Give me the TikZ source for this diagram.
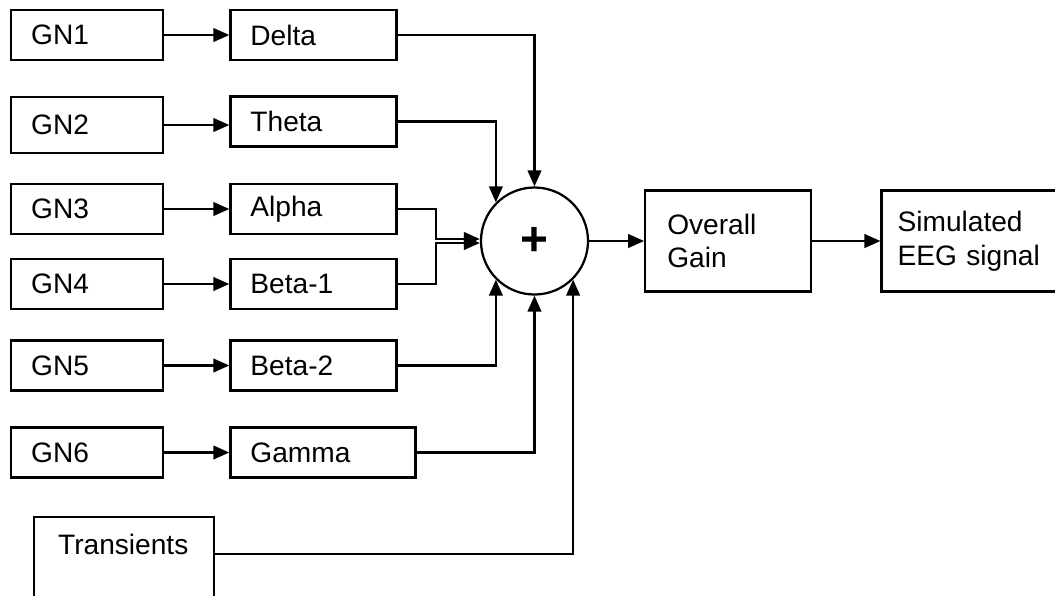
\documentclass[tikz,border=0pt]{standalone}
\usepackage{fontspec}
\setmainfont{Liberation Sans}
\usetikzlibrary{positioning, arrows.meta}
\tikzset{
  >={Triangle[length=0.4cm, width=0.34cm]},
  every node/.style={font=\fontsize{20}{24}\selectfont},
  block/.style={draw, rectangle, inner xsep=0.5cm, inner ysep=0pt, align=left, minimum height=1.25cm},
  gnbox/.style={block, text width=2.8cm},
  bandbox/.style={block, text width=3.15cm},
}

\begin{document}
\begin{tikzpicture}[x=0.025cm, y=-0.025cm, line width=1.6pt]
      \useasboundingbox (0,0) rectangle (1055,595);

      \node[gnbox, anchor=west]  (gn1) at (10,35) {GN1};
      \node[gnbox, anchor=west, minimum height=1.4cm]  (gn2) at (10,125) {GN2};
      \node[gnbox, anchor=west]  (gn3) at (10,209) {GN3};
      \node[gnbox, anchor=west]  (gn4) at (10,284) {GN4};
      \node[gnbox, anchor=west]  (gn5) at (10,365.5) {GN5};
      \node[gnbox, anchor=west]  (gn6) at (10,452.5) {GN6};

      \node[bandbox, right=1.625cm of gn1]  (delta) {Delta};
      \node[bandbox, right=1.625cm of gn2, yshift=0.09cm]  (theta) {Theta};
      \node[bandbox, right=1.625cm of gn3]  (alpha) {Alpha};
      \node[bandbox, right=1.625cm of gn4]  (beta1) {Beta-1};
      \node[bandbox, right=1.625cm of gn5]  (beta2) {Beta-2};
      \node[bandbox, right=1.625cm of gn6, text width=3.625cm]  (gamma) {Gamma};

      \node[block, anchor=north west, text width=3.3cm, inner xsep=0.6cm,
            text height=0.925cm, text depth=1.8cm]  (trans) at (33,516) {Transients};

      \node[circle, draw, minimum size=2.675cm, inner sep=0pt,
            font=\fontsize{34}{34}\selectfont\bfseries]  (sum) at (534.5,241) {+};
      \node[block, text width=3.05cm, minimum height=2.525cm, inner xsep=0.55cm,
            right=1.375cm of sum]  (gain) {Overall\\Gain};
      \node[block, text width=3.6cm, minimum height=2.525cm, inner xsep=0.4cm,
            right=1.7cm of gain]  (eeg) {Simulated\\EEG signal};

      \coordinate[left=1.1cm of sum.west] (mix);

      \draw[->] (gn1) -- (delta);
      \draw[->] (gn2) -- (gn2 -| theta.west);
      \draw[->] (gn3) -- (alpha);
      \draw[->] (gn4) -- (beta1);
      \draw[->] (gn5) -- (beta2);
      \draw[->] (gn6) -- (gamma);

      \draw[->] (delta) -| (sum.north);
      \draw[->] (theta) -| (sum.135);
      \draw[->] (alpha) -| ([yshift=0.05cm]mix) -- ([yshift=0.05cm]sum.west);
      \draw[->] (beta1) -| ([yshift=-0.05cm]mix) -- ([yshift=-0.05cm]sum.west);
      \draw[->] (beta2) -| (sum.-135);
      \draw[->] (gamma) -| (sum.south);
      \draw[->] (trans.base east) -| (sum.-45);

      \draw[->] (sum) -- (gain);
      \draw[->] (gain) -- (eeg);
\end{tikzpicture}
\end{document}
